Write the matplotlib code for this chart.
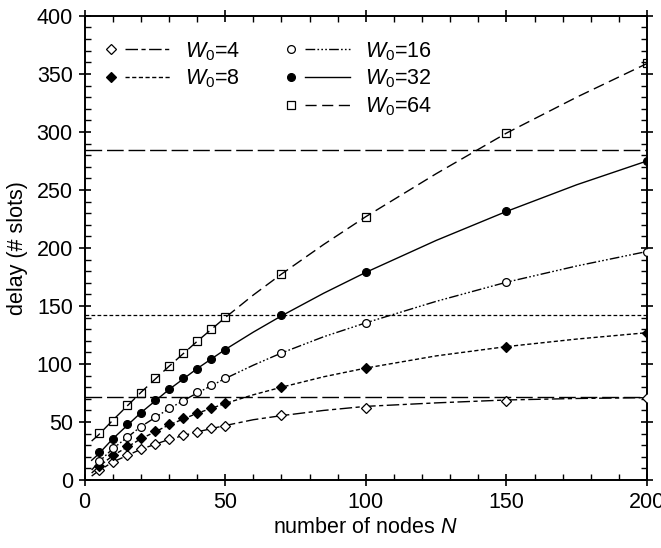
import numpy as np
import matplotlib
matplotlib.use("Agg")
import matplotlib.pyplot as plt
from matplotlib.lines import Line2D
from matplotlib.legend_handler import HandlerBase
from matplotlib.ticker import MultipleLocator

plt.rcParams['font.family'] = ['Liberation Sans', 'DejaVu Sans']
plt.rcParams['mathtext.fontset'] = 'custom'
plt.rcParams['mathtext.rm'] = 'Liberation Sans'
plt.rcParams['mathtext.it'] = 'Liberation Sans:italic'

# simulation points
n_sim = [5, 10, 15, 20, 25, 30, 35, 40, 45, 50, 70, 100, 150, 200]
sim_w4 = [8.6, 15.8, 21.8, 26.7, 31.3, 35.1, 38.8, 41.4, 44.5, 46.8, 56, 62.3, 68.4, 71]
sim_w8 = [12.1, 21.3, 29.3, 35.9, 42.2, 48.3, 53.4, 58, 62, 66.1, 80.5, 96.8, 114.9, 126.4]
sim_w16 = [16.7, 27.6, 37.4, 46, 54.6, 61.8, 68.4, 75.6, 81.9, 88.2, 109.7, 135.6, 170.4, 196.8]
sim_w32 = [24.1, 35.6, 48, 58, 68.7, 78.2, 87.7, 95.7, 104.3, 112.3, 142, 179, 231.9, 275]
sim_w64 = [40.2, 51.1, 64.4, 75.3, 87.7, 98.3, 109.5, 120.1, 130.2, 140.3, 177.6, 227, 299.4, 359]

# analytical curves
n_model = [2.5, 5, 10, 20, 30, 40, 50, 60, 70, 85, 100, 125, 150, 175, 200]
mod_w4 = [3.4, 8, 15.5, 26.5, 35, 41.5, 47, 52, 55.5, 60, 63.5, 66.5, 69, 70.3, 71]
mod_w8 = [6, 11.5, 21, 35.5, 47.5, 57.5, 66, 73.5, 80, 89, 96.5, 107, 115, 121.5, 127]
mod_w16 = [8.6, 15.5, 27, 46, 61.5, 75, 87.5, 99, 109.5, 123.5, 135.5, 154, 170.5, 184.5, 197]
mod_w32 = [17, 22.5, 35.5, 58, 78, 96, 112.5, 127.5, 141.5, 161, 179, 206.5, 231.5, 254.5, 275]
mod_w64 = [33.6, 39, 51.5, 75.5, 98, 119.5, 140, 159.5, 177.5, 203, 227, 264, 299, 330, 359]

# horizontal reference levels
h_levels = [71.5, 142.5, 284.5]

d_w4 = (0, (9, 2.5, 3, 2.5))
d_w8 = (0, (3, 1.8))
d_w16 = (0, (7, 1.6, 1.2, 1.6, 1.2, 1.6, 1.2, 1.6))
d_w64 = (0, (8, 4))

series = [
    (r'$W_0$=4', sim_w4, mod_w4, 'D', 'white', d_w4, 4.6),
    (r'$W_0$=8', sim_w8, mod_w8, 'D', 'black', d_w8, 4.6),
    (r'$W_0$=16', sim_w16, mod_w16, 'o', 'white', d_w16, 5.6),
    (r'$W_0$=32', sim_w32, mod_w32, 'o', 'black', '-', 5.6),
    (r'$W_0$=64', sim_w64, mod_w64, 's', 'none', d_w64, 6.0),
]


class MarkerThenLine(HandlerBase):
    # marker on the left, line segment to its right
    def create_artists(self, legend, orig_handle, xdescent, ydescent,
                       width, height, fontsize, trans):
        mk, ln = orig_handle
        y = height / 2 - ydescent
        x0 = -xdescent
        m = Line2D([x0 + 0.05 * width], [y])
        m.update_from(mk)
        m.set_linestyle('none')
        m.set_transform(trans)
        l = Line2D([x0 + 0.28 * width, x0 + width], [y, y])
        l.update_from(ln)
        l.set_marker('None')
        l.set_transform(trans)
        return [m, l]


fig = plt.figure(figsize=(6.61, 5.48), dpi=100)
ax = fig.add_axes([0.128, 0.124, 0.851, 0.847])

ax.axhline(h_levels[0], color='black', lw=1.0, dashes=(12, 3.5))
ax.axhline(h_levels[1], color='black', lw=0.9, dashes=(3, 1.8))
ax.axhline(h_levels[2], color='black', lw=1.0, dashes=(12, 3.5))

handles = []
labels = []
for label, sim, mod, mk, fc, ls, ms in series:
    ln, = ax.plot(n_model, mod, color='black', lw=1.0, linestyle=ls)
    mkr, = ax.plot(n_sim, sim, ls='none', marker=mk, ms=ms, mfc=fc,
                   mec='black', mew=0.9, zorder=3)
    handles.append((mkr, ln))
    labels.append(label)

blank = (Line2D([], [], ls='none'), Line2D([], [], ls='none'))
handles = handles[:2] + [blank] + handles[2:]
labels = labels[:2] + [' '] + labels[2:]

ax.legend(handles, labels, handler_map={tuple: MarkerThenLine()},
          ncol=2, frameon=False, fontsize=15.5, handlelength=2.9,
          handletextpad=0.7, columnspacing=2.2, labelspacing=0.24,
          loc='upper left', bbox_to_anchor=(0.007, 0.99), borderaxespad=0.5)

ax.set_xlim(0, 200)
ax.set_ylim(0, 400)
ax.xaxis.set_major_locator(MultipleLocator(50))
ax.xaxis.set_minor_locator(MultipleLocator(10))
ax.yaxis.set_major_locator(MultipleLocator(50))
ax.yaxis.set_minor_locator(MultipleLocator(10))
ax.tick_params(which='major', direction='inout', length=9, width=1.2,
               top=True, right=True, labelsize=15.5, pad=4)
ax.tick_params(which='minor', direction='in', length=4.5, width=1.0,
               top=True, right=True)
for sp in ax.spines.values():
    sp.set_linewidth(1.4)

ax.set_xlabel(r'number of nodes $N$', fontsize=15.5, labelpad=3)
ax.set_ylabel('delay (# slots)', fontsize=15.5, labelpad=6)

fig.savefig('out.png', dpi=100)
